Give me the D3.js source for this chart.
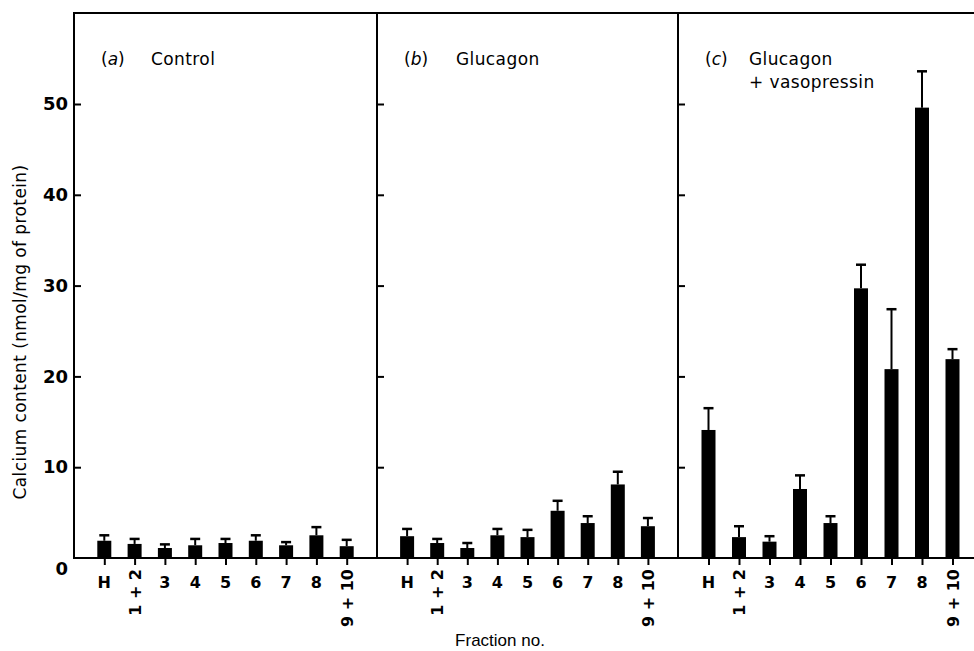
<!DOCTYPE html>
<html><head><meta charset="utf-8">
<script src="https://cdn.jsdelivr.net/npm/d3@7"></script>
<style>
body{margin:0;background:#fff;}
text{font-family:"DejaVu Sans","Liberation Sans",Arial,sans-serif;fill:#000;}
</style></head>
<body><svg id="c" width="974" height="651"></svg>
<script>
const fractions = ["H","1 + 2","3","4","5","6","7","8","9 + 10"];
const panelLetters = ["a","b","c"];
const panelTitles = [["Control"],["Glucagon"],["Glucagon","+ vasopressin"]];
const controlMean = [1.9,1.55,1.1,1.4,1.65,1.9,1.4,2.5,1.3];
const controlTop  = [2.5,2.1,1.5,2.1,2.1,2.5,1.75,3.4,2.0];
const glucagonMean = [2.4,1.65,1.1,2.5,2.3,5.2,3.85,8.1,3.5];
const glucagonTop  = [3.2,2.1,1.65,3.2,3.1,6.3,4.6,9.5,4.4];
const gvMean = [14.1,2.3,1.8,7.6,3.85,29.7,20.8,49.6,21.9];
const gvTop  = [16.5,3.5,2.4,9.1,4.6,32.3,27.4,53.6,23.0];
const yTicks = [0,10,20,30,40,50];
const yLabel = "Calcium content (nmol/mg of protein)";
const xLabel = "Fraction no.";

const means = [controlMean, glucagonMean, gvMean];
const tops = [controlTop, glucagonTop, gvTop];

const svg = d3.select("#c");
const y = d3.scaleLinear().domain([0,50]).range([558,104]);
const yTopPx = 13;
const panelX = [74,377,678];
const panelW = [303,301,305];

svg.append("line").attr("x1",74).attr("x2",974).attr("y1",yTopPx).attr("y2",yTopPx)
  .attr("stroke","#000").attr("stroke-width",2);
svg.append("line").attr("x1",73).attr("x2",974).attr("y1",y(0)).attr("y2",y(0))
  .attr("stroke","#000").attr("stroke-width",2);

const yl = svg.append("g").attr("transform","translate(74,0)")
  .call(d3.axisLeft(y).tickValues(yTicks).tickSize(0).tickPadding(6).tickFormat(d3.format("d")));
yl.select(".domain").remove();
yl.selectAll("text").style("font-size","18px").style("font-family","DejaVu Sans, sans-serif").style("font-weight","bold");
yl.selectAll(".tick").filter(d=>d===0).select("text").attr("dy","0.9em");

panelX.forEach((x0,i)=>{
  const ax = svg.append("g").attr("transform",`translate(${x0},0)`)
    .call(d3.axisRight(y).tickValues(yTicks.slice(1)).tickSize(7).tickFormat(""));
  ax.select(".domain").remove();
  ax.selectAll("line").attr("stroke","#000").attr("stroke-width",2);
  svg.append("line").attr("x1",x0).attr("x2",x0).attr("y1",yTopPx-1).attr("y2",y(0)+1)
    .attr("stroke","#000").attr("stroke-width",2);

  const x = d3.scalePoint().domain(fractions).range([x0, x0+panelW[i]]).padding(1);
  const bx = svg.append("g").attr("transform",`translate(0,${y(0)})`)
    .call(d3.axisBottom(x).tickSize(7).tickFormat(""));
  bx.select(".domain").remove();
  bx.selectAll("line").attr("stroke","#000").attr("stroke-width",2);

  fractions.forEach(f=>{
    const t = svg.append("text").text(f).style("font-size","16px").style("font-weight","bold");
    if (f.includes("+")) {
      t.attr("transform",`translate(${x(f)+6},569) rotate(-90)`).attr("text-anchor","end");
    } else {
      t.attr("x",x(f)).attr("y",588).attr("text-anchor","middle");
    }
  });

  const bw = 14, cw = 10;
  const g = svg.append("g");
  fractions.forEach((f,j)=>{
    const cx = x(f);
    g.append("line").attr("x1",cx).attr("x2",cx).attr("y1",y(means[i][j])).attr("y2",y(tops[i][j]))
      .attr("stroke","#000").attr("stroke-width",2);
    g.append("line").attr("x1",cx-cw/2).attr("x2",cx+cw/2).attr("y1",y(tops[i][j])).attr("y2",y(tops[i][j]))
      .attr("stroke","#000").attr("stroke-width",2.5);
    g.append("rect").attr("x",cx-bw/2).attr("width",bw).attr("y",y(means[i][j]))
      .attr("height",y(0)-y(means[i][j])).attr("fill","#000");
  });

  const tx = x0+27;
  const lt = svg.append("text").attr("x",tx).attr("y",65).style("font-size","17px");
  lt.append("tspan").text("(");
  lt.append("tspan").text(panelLetters[i]).style("font-style","italic");
  lt.append("tspan").text(")");
  panelTitles[i].forEach((s,k)=>{
    svg.append("text").attr("x",x0+77 - (i===0?0:(i===1?-2:6))).attr("y",65+k*23).text(s)
      .style("font-size","17px").style("letter-spacing","0.4px");
  });
});

svg.append("text").attr("x",500).attr("y",646).attr("text-anchor","middle").text(xLabel)
  .style("font-family","Liberation Sans, Arial, sans-serif").style("font-size","17px");
svg.append("text").attr("transform","translate(26,332) rotate(-90)").attr("text-anchor","middle")
  .text(yLabel).style("font-size","17px").style("letter-spacing","0.4px");
</script></body></html>
